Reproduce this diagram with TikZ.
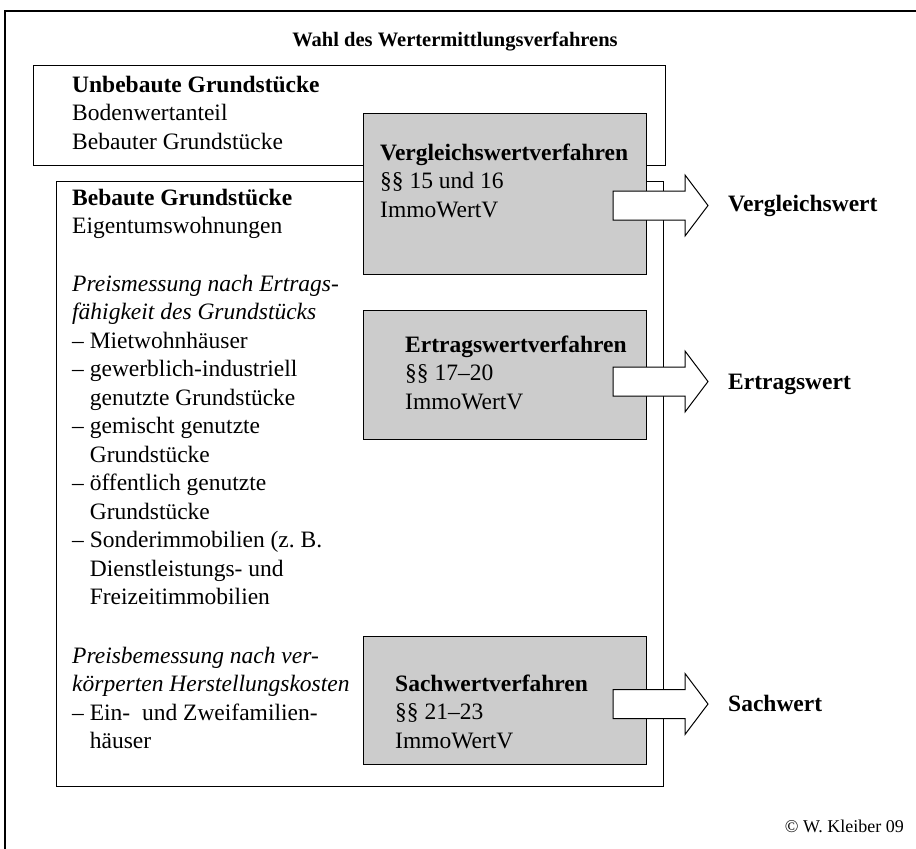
\documentclass[tikz,border=0pt]{standalone}
\usepackage{fontspec}
\setmainfont{Liberation Serif}

\definecolor{boxgray}{RGB}{204,204,204}

\begin{document}
\begin{tikzpicture}[x=1pt,y=-1pt,
    rbox/.style={draw=black, line width=1pt, inner sep=0pt, outer sep=0pt, anchor=north west},
    txt/.style={font=\fontsize{23.5}{28.5}\selectfont, inner sep=0pt, align=left, anchor=north west},
    wert/.style={font=\fontsize{23.5}{28.5}\selectfont\bfseries, inner sep=0pt, anchor=base west},
    pfeil/.style={draw=black, fill=white, line width=1pt, line join=miter}]

    % Page and outer frame
    \useasboundingbox[fill=white] (0,0) rectangle (916,849);
    \clip (0,0) rectangle (916,849);
    \draw[line width=2pt] (5,870) -- (5,11) -- (940,11);

    \node[font=\fontsize{20.5}{25}\selectfont\bfseries, inner sep=0pt, anchor=base] (titel) at (455,46) {Wahl des Wertermittlungsverfahrens};

    % The two groups of plots
    \node[rbox, fill=white, minimum width=632, minimum height=100] (unbebaut) at (33,65) {};
    \node[rbox, fill=white, minimum width=607, minimum height=605] (bebaut) at (56,181) {};

    \node[txt] (unbtxt) at (72,72) {\strut\textbf{Unbebaute Grundstücke}\\Bodenwertanteil\\Bebauter Grundstücke};
    \node[txt] (bebtxt) at (72,185) {\strut\textbf{Bebaute Grundstücke}\\Eigentumswohnungen};
    \node[txt] (ertliste) at (72,271) {\strut\textit{Preismessung nach Ertrags-}\\
        \textit{fähigkeit des Grundstücks}\\
        -- Mietwohnhäuser\\
        -- gewerblich-industriell\\
        \hphantom{--~}genutzte Grundstücke\\
        -- gemischt genutzte\\
        \hphantom{--~}Grundstücke\\
        -- öffentlich genutzte\\
        \hphantom{--~}Grundstücke\\
        -- Sonderimmobilien (z.~B.\\
        \hphantom{--~}Dienstleistungs- und\\
        \hphantom{--~}Freizeitimmobilien};
    \node[txt] (sachliste) at (72,643) {\strut\textit{Preisbemessung nach ver-}\\
        \textit{körperten Herstellungskosten}\\
        -- Ein-~~und Zweifamilien-\\
        \hphantom{--~}häuser};

    % The three methods
    \node[rbox, fill=boxgray, minimum width=283, minimum height=161] (vgl) at (363,113) {};
    \node[rbox, fill=boxgray, minimum width=283, minimum height=129] (ert) at (363,310) {};
    \node[rbox, fill=boxgray, minimum width=283, minimum height=128] (sach) at (363,636) {};

    \node[txt] (vgltxt) at (380,140) {\strut\textbf{Vergleichswertverfahren}\\§§ 15 und 16\\ImmoWertV};
    \node[txt] (erttxt) at (405,332) {\strut\textbf{Ertragswertverfahren}\\§§ 17--20\\ImmoWertV};
    \node[txt] (sachtxt) at (395,671) {\strut\textbf{Sachwertverfahren}\\§§ 21--23\\ImmoWertV};

    % Arrows and results
    \coordinate (pv) at (613,205.5);
    \coordinate (pe) at (613,381.5);
    \coordinate (ps) at (613,704);
    \draw[pfeil] (pv) ++(0,-14.5) -- ++(72,0) -- ++(0,-16) -- ++(23,30.5) -- ++(-23,30.5) -- ++(0,-16) -- ++(-72,0) -- cycle;
    \draw[pfeil] (pe) ++(0,-14.5) -- ++(72,0) -- ++(0,-16) -- ++(23,30.5) -- ++(-23,30.5) -- ++(0,-16) -- ++(-72,0) -- cycle;
    \draw[pfeil] (ps) ++(0,-14.5) -- ++(72,0) -- ++(0,-16) -- ++(23,30.5) -- ++(-23,30.5) -- ++(0,-16) -- ++(-72,0) -- cycle;

    \node[wert] (vwert) at (728,211) {Vergleichswert};
    \node[wert] (ewert) at (728,389) {Ertragswert};
    \node[wert] (swert) at (728,711) {Sachwert};

    \node[font=\fontsize{18}{22}\selectfont, inner sep=0pt, anchor=base east] (copy) at (904,832) {© W. Kleiber 09};

\end{tikzpicture}
\end{document}
